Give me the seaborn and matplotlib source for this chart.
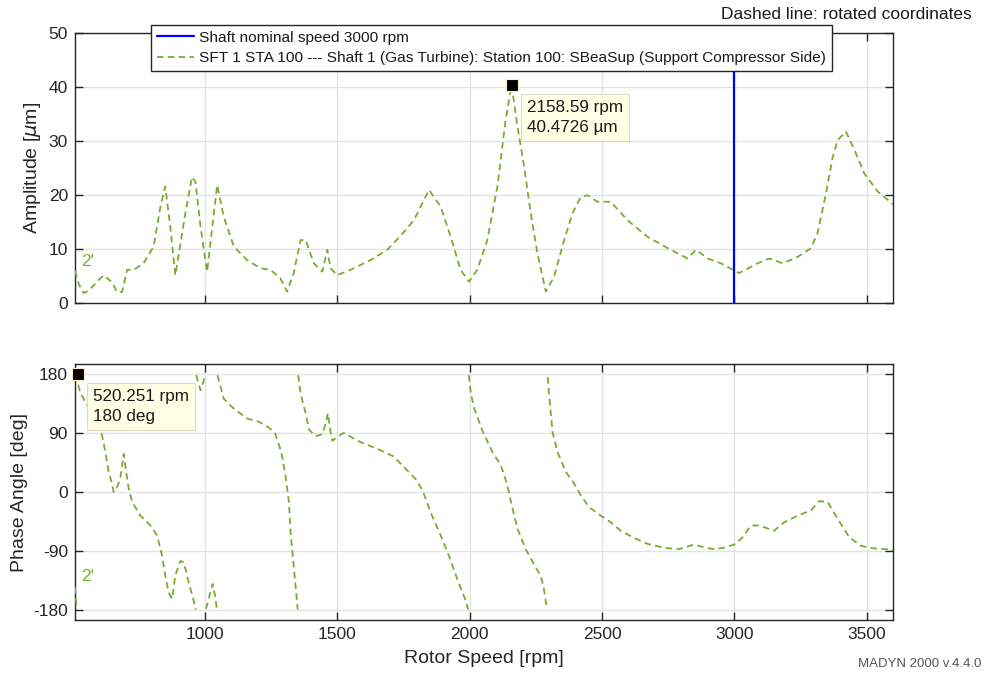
import numpy as np
import pandas as pd
import matplotlib
matplotlib.use("Agg")
import matplotlib.pyplot as plt
import seaborn as sns

# ---------------- data ----------------
amp_rpm = [510, 525, 543, 560, 590, 618, 650, 669, 688, 707, 732, 769, 807, 833, 851, 870, 889,
           927, 952, 965, 984, 1009, 1047, 1072, 1110, 1160, 1210, 1248, 1286, 1311, 1336, 1362,
           1381, 1412, 1444, 1463, 1475, 1500, 1551, 1626, 1689, 1740, 1790, 1847, 1891, 1929,
           1966, 1998, 2029, 2067, 2105, 2136, 2158.59, 2181, 2206, 2231, 2256, 2288, 2319, 2357,
           2389, 2420, 2445, 2483, 2533, 2596, 2672, 2760, 2823, 2855, 2899, 2949, 3018, 3088,
           3132, 3182, 3239, 3289, 3314, 3346, 3371, 3390, 3421, 3453, 3491, 3541, 3600]
amp_um = [6.0, 3.5, 1.9, 2.3, 3.8, 5.2, 3.9, 2.1, 2.1, 6.2, 6.2, 7.4, 10.5, 17.9, 21.6, 14.2, 5.2,
          16.7, 23.4, 22.5, 14.2, 5.85, 21.9, 16.0, 10.5, 8.0, 6.5, 6.2, 4.6, 2.15, 5.6, 11.7,
          11.7, 7.4, 5.85, 9.9, 6.5, 5.2, 6.2, 8.0, 9.9, 12.5, 15.4, 21.0, 17.9, 12.3,
          6.2, 4.0, 6.2, 11.7, 21.6, 33.9, 40.4726, 32.7, 25.3, 16.7, 9.3, 2.15, 4.9, 11.7,
          16.7, 19.7, 20.0, 18.8, 18.8, 15.4, 12.3, 9.9, 8.3, 9.9, 8.3, 7.4, 5.6, 7.4,
          8.3, 7.4, 8.6, 10.2, 13.0, 20.4, 27.1, 30.2, 31.8, 28.4, 24.0, 20.7, 18.3]

ph_rpm = [510, 514, 518, 520.251, 524, 532, 543, 575, 612, 625, 637, 650, 656, 669, 681, 694, 700,
          713, 726, 757, 795, 820, 839, 851, 864, 877, 889, 908, 921, 940, 958, 966,
          968, 984, 995, 1002, 1005, 1018, 1030, 1040, 1046, 1048, 1060, 1072, 1110, 1160,
          1204, 1236, 1265, 1282, 1292, 1305, 1318, 1324, 1332, 1340, 1347, 1351, 1353, 1362,
          1381, 1394, 1419, 1444, 1457, 1465, 1475, 1482, 1500, 1525, 1588, 1651, 1714, 1752,
          1796, 1822, 1853, 1891, 1922, 1954, 1986, 1995, 1997, 2005, 2017, 2048, 2086, 2118,
          2143, 2162, 2181, 2212, 2243, 2269, 2281, 2292, 2295, 2300, 2313, 2332, 2363, 2395,
          2420, 2451, 2495, 2533, 2571, 2621, 2672, 2735, 2791, 2848, 2892, 2924, 2960, 2999,
          3031, 3062, 3094, 3150, 3188, 3239, 3289, 3320, 3352, 3390, 3434, 3478, 3528, 3600]
ph_deg = [-145, -165, -178, 180, 160, 150, 142, 118, 87, 61, 31, 13, 0, 8, 20, 58, 41,
          5, -15, -36, -51, -66, -97, -127, -153, -163, -127, -105, -107, -138, -165, -179,
          178, 155, 168, 179, -178, -158, -140, -160, -179, 178, 160, 142, 127, 112,
          107, 100, 90, 70, 55, 25, -15, -60, -95, -130, -160, -179, 178, 150,
          120, 95, 85, 88, 105, 120, 92, 78, 84, 90, 76, 66, 54, 38,
          20, 3, -31, -66, -97, -133, -166, -179, 178, 150, 128, 94, 61, 41,
          10, -25, -56, -87, -110, -128, -148, -178, 175, 150, 92, 61, 31, 13,
          -5, -23, -36, -46, -59, -70, -79, -85, -87, -80, -85, -87, -85, -80,
          -69, -51, -51, -59, -46, -36, -28, -14, -15, -41, -69, -82, -86, -88]

nominal_speed = 3000
tip1 = (2158.59, 40.4726)
tip2 = (520.251, 180)
tip1_text = "2158.59 rpm\n40.4726 \u00b5m"
tip2_text = "520.251 rpm\n180 deg"
legend_labels = ["Shaft nominal speed 3000 rpm",
                 "SFT 1 STA 100 --- Shaft 1 (Gas Turbine): Station 100: SBeaSup (Support Compressor Side)"]
x_ticks = [1000, 1500, 2000, 2500, 3000, 3500]
amp_ticks = [0, 10, 20, 30, 40, 50]
ph_ticks = [-180, -90, 0, 90, 180]

# ---------------- style ----------------
sns.set_theme(style="whitegrid")
plt.rcParams["font.family"] = ["Liberation Sans", "DejaVu Sans"]
plt.rcParams.update({
    "axes.unicode_minus": False,
    "axes.edgecolor": "#262626",
    "axes.linewidth": 1.0,
    "grid.color": "#e3e3e3",
    "grid.linewidth": 1.0,
    "xtick.direction": "in",
    "ytick.direction": "in",
    "xtick.major.size": 5.5,
    "ytick.major.size": 5.5,
    "xtick.major.width": 1.0,
    "ytick.major.width": 1.0,
    "xtick.color": "#262626",
    "ytick.color": "#262626",
    "xtick.labelcolor": "#262626",
    "ytick.labelcolor": "#262626",
    "xtick.labelsize": 12.5,
    "ytick.labelsize": 12.5,
    "axes.labelsize": 14,
    "axes.labelcolor": "#262626",
})

green = (0.466, 0.674, 0.188)
dash = (0, (3.6, 2.4))

fig = plt.figure(figsize=(9.86, 6.78), dpi=100)
ax1 = fig.add_axes([0.076, 0.5527, 0.830, 0.3982])
ax2 = fig.add_axes([0.076, 0.0855, 0.830, 0.3776])

# amplitude
vline = ax1.axvline(nominal_speed, color="#0000ff", lw=1.6, zorder=3)
sns.lineplot(x=amp_rpm, y=amp_um, ax=ax1, color=green, lw=1.3, ls=dash, sort=False, zorder=4)
amp_line = ax1.get_lines()[-1]

# phase: break at wraps
ph_rpm_a = np.array(ph_rpm, dtype=float)
ph_deg_a = np.array(ph_deg, dtype=float)
seg = np.concatenate([[0], np.cumsum(np.abs(np.diff(ph_deg_a)) > 180)])
df_ph = pd.DataFrame({"rpm": ph_rpm_a, "phase": ph_deg_a, "seg": seg})
sns.lineplot(data=df_ph, x="rpm", y="phase", units="seg", estimator=None, sort=False,
             ax=ax2, color=green, lw=1.3, ls=dash, zorder=4)

for ax in (ax1, ax2):
    ax.set_xlim(510, 3600)
    ax.set_xticks(x_ticks)
    ax.tick_params(top=True, right=True, bottom=True, left=True, pad=5)
    ax.grid(True, zorder=0)
    for s in ax.spines.values():
        s.set_color("#262626")
        s.set_linewidth(1.0)
    ax.set_axisbelow(True)

ax1.set_ylim(0, 50)
ax1.set_yticks(amp_ticks)
ax1.set_xticklabels([])
ax1.set_xlabel("")
ax1.set_ylabel(r"Amplitude [$\mu$m]")

ax2.set_ylim(-195, 195)
ax2.set_yticks(ph_ticks)
ax2.set_xticklabels([str(t) for t in x_ticks])
ax2.set_xlabel("Rotor Speed [rpm]", labelpad=6)
ax2.set_ylabel("Phase Angle [deg]")

# '2'' labels
ax1.text(533, 7.7, "2'", color=green, fontsize=12.5, ha="left", va="center", zorder=5)
ax2.text(533, -129, "2'", color=green, fontsize=12.5, ha="left", va="center", zorder=5)

# data tips
for ax, tip, txt in ((ax1, tip1, tip1_text), (ax2, tip2, tip2_text)):
    ax.plot([tip[0]], [tip[1]], marker="s", ms=8.5, mfc="black", mec="#f5f0c8", mew=0.8,
            ls="none", zorder=8, clip_on=False)
    ax.annotate(txt, xy=tip, xytext=(15, -15), textcoords="offset pixels",
                ha="left", va="top", fontsize=12.3, color="#1a1a1a", linespacing=1.4,
                zorder=9, annotation_clip=False,
                bbox=dict(boxstyle="square,pad=0.35", fc="#ffffe6", ec="#dcdcc0", lw=0.8))

# legend
leg = fig.legend(handles=[vline, amp_line], labels=legend_labels,
                 loc="upper left", bbox_to_anchor=(0.1528, 0.9631), borderaxespad=0,
                 fontsize=11.1, frameon=True, fancybox=False, framealpha=1,
                 edgecolor="#262626", labelspacing=0.4, handlelength=2.4,
                 handletextpad=0.35, borderpad=0.38)
leg.get_frame().set_linewidth(1.0)
for t in leg.get_texts():
    t.set_color("#1a1a1a")

fig.text(0.9855, 0.978, "Dashed line: rotated coordinates", ha="right", va="center",
         fontsize=12.5, color="#1a1a1a")
fig.text(0.9955, 0.012, "MADYN 2000 v.4.4.0", ha="right", va="bottom",
         fontsize=9.5, color="#555555")

fig.savefig("out.png", dpi=100)
